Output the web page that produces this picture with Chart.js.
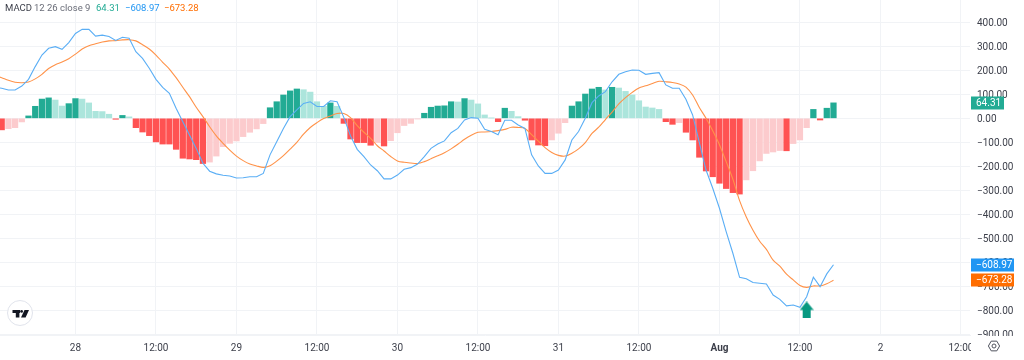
<!DOCTYPE html>
<html>
<head>
<meta charset="utf-8">
<title>MACD</title>
<script src="https://cdn.jsdelivr.net/npm/chart.js@4/dist/chart.umd.min.js"></script>
<style>
  html, body { margin: 0; padding: 0; background: #fff; }
  #grafico { display: block; }
</style>
</head>
<body>
<canvas id="grafico" width="1024" height="360"></canvas>
<script>
// hourly values. first entry sits just left of the canvas
const histogram = [
  -45, -48, -43, -39, -15, 10, 50, 80, 85, 76, 51, 61,
  82, 80, 64, 29, 28, 17, -4, 12, 6, -39, -57, -72,
  -98, -107, -107, -129, -166, -169, -172, -188, -182, -157, -118, -104,
  -94, -76, -58, -44, -22, 44, 69, 97, 114, 122, 119, 109,
  69, 50, 64, 50, -21, -86, -101, -101, -112, -101, -115, -93,
  -60, -30, -21, -3, 21, 46, 51, 52, 69, 68, 82, 76,
  60, 14, 1, -14, 42, 29, 7, -8, -90, -111, -114, -90,
  -62, -18, 51, 69, 101, 122, 129, 118, 129, 126, 112, 97,
  73, 47, 43, 37, -14, -25, -18, -58, -90, -162, -219, -243,
  -270, -292, -309, -315, -256, -218, -177, -146, -140, -134, -135, -105,
  -90, -39, 37, -7, 42, 64.31
];
const macd = [
  130, 125, 118, 118, 134, 162, 215, 263, 291, 298, 287, 315,
  353, 370, 370, 342, 346, 340, 324, 337, 333, 277, 249, 208,
  162, 129, 104, 42, -14, -69, -125, -187, -220, -231, -237, -240,
  -248, -247, -243, -243, -229, -152, -97, -42, 7, 35, 62, 69,
  49, 49, 73, 69, 4, -73, -129, -159, -194, -218, -252, -252,
  -236, -212, -205, -190, -159, -125, -107, -94, -60, -42, -7, 3,
  0, -46, -55, -68, -8, -8, -28, -42, -152, -198, -229, -229,
  -215, -173, -90, -55, 0, 65, 93, 111, 152, 183, 194, 201,
  200, 183, 187, 190, 139, 125, 125, 79, 14, -101, -215, -291,
  -374, -471, -561, -661, -667, -683, -686, -689, -735, -753, -780, -776,
  -786, -742, -661, -700, -647, -608.97
];
const signal = [
  179, 169, 158, 150, 148, 151, 164, 183, 207, 223, 234, 248,
  267, 288, 302, 310, 317, 322, 323, 326, 327, 322, 306, 288,
  263, 233, 205, 169, 129, 90, 46, 7, -35, -73, -104, -132,
  -157, -176, -190, -198, -204, -197, -178, -155, -128, -100, -66, -38,
  -18, -1, 10, 20, 20, 3, -30, -58, -83, -114, -136, -159,
  -177, -183, -186, -188, -180, -168, -156, -143, -127, -108, -87, -70,
  -58, -57, -55, -51, -46, -37, -38, -42, -68, -95, -122, -142,
  -154, -157, -145, -127, -101, -63, -37, -5, 26, 60, 86, 108,
  126, 135, 145, 154, 152, 149, 143, 130, 97, 45, 0, -52,
  -110, -180, -253, -342, -410, -465, -511, -545, -590, -615, -648, -672,
  -695, -703, -697, -697, -688, -673.28
];
const arrowHour = [109];
const arrowValue = [-797];

const xTickHours = [0, 12, 24, 36, 48, 60, 72, 84, 96, 108, 120, 132];
const xTickLabels = ['28', '12:00', '29', '12:00', '30', '12:00', '31', '12:00', 'Aug', '12:00', '2', '12:00'];
const yTickValues = [400, 300, 200, 100, 0, -100, -200, -300, -400, -500, -600, -700, -800, -900];
const yTickLabels = ['400.00', '300.00', '200.00', '100.00', '0.00', '\u2212100.00', '\u2212200.00', '\u2212300.00',
  '\u2212400.00', '\u2212500.00', '\u2212600.00', '\u2212700.00', '\u2212800.00', '\u2212900.00'];

const FONT = 'Roboto, sans-serif';
const DARK_GREEN = '#22ab94';
const LIGHT_GREEN = '#ace5dc';
const DARK_RED = '#ff5252';
const LIGHT_RED = '#fccbcd';
const BLUE = '#2196f3';
const ORANGE = '#ff6d00';

const hours = macd.map((v, i) => i - 12);
const toPoints = (values) => values.map((y, i) => ({ x: hours[i], y: y }));

// same rule tradingview uses: rising or falling against the previous bar
const barColors = histogram.map((v, i) => {
  const prev = i > 0 ? histogram[i - 1] : 0;
  if (v >= 0) return v >= prev ? DARK_GREEN : LIGHT_GREEN;
  return v <= prev ? DARK_RED : LIGHT_RED;
});

// green arrow marker
const arrow = document.createElement('canvas');
arrow.width = 14;
arrow.height = 17;
const a = arrow.getContext('2d');
a.fillStyle = '#089981';
a.beginPath();
a.moveTo(7, 0);
a.lineTo(14, 8.5);
a.lineTo(11, 8.5);
a.lineTo(11, 17);
a.lineTo(3, 17);
a.lineTo(3, 8.5);
a.lineTo(0, 8.5);
a.closePath();
a.fill();

function priceTag(ctx, scale, value, color, width) {
  const y = Math.round(scale.getPixelForValue(value));
  const text = (value < 0 ? '\u2212' : '') + Math.abs(value).toFixed(2);
  ctx.fillStyle = color;
  ctx.fillRect(971, y - 6.5, width, 13);
  ctx.fillStyle = '#fff';
  ctx.font = '10px ' + FONT;
  ctx.textAlign = 'left';
  ctx.textBaseline = 'middle';
  ctx.fillText(text, 976, y + 0.5);
}

function drawLogo(ctx) {
  ctx.beginPath();
  ctx.arc(20, 313, 12.5, 0, Math.PI * 2);
  ctx.fillStyle = '#fff';
  ctx.fill();
  ctx.strokeStyle = '#e0e3eb';
  ctx.lineWidth = 1;
  ctx.stroke();
  ctx.fillStyle = '#131722';
  ctx.fillRect(12.5, 310, 7.5, 3);
  ctx.fillRect(15.8, 310, 3.6, 7.5);
  ctx.beginPath();
  ctx.arc(21.6, 311.4, 1.4, 0, Math.PI * 2);
  ctx.fill();
  ctx.beginPath();
  ctx.moveTo(24.5, 310);
  ctx.lineTo(29, 310);
  ctx.lineTo(25.6, 317.5);
  ctx.lineTo(21, 317.5);
  ctx.closePath();
  ctx.fill();
}

function drawGear(ctx) {
  ctx.strokeStyle = '#50535e';
  ctx.lineWidth = 1;
  ctx.beginPath();
  for (let k = 0; k < 6; k++) {
    const ang = Math.PI / 3 * k;
    const px = 994 + 5.6 * Math.cos(ang);
    const py = 346 + 5.6 * Math.sin(ang);
    if (k === 0) ctx.moveTo(px, py); else ctx.lineTo(px, py);
  }
  ctx.closePath();
  ctx.stroke();
  ctx.beginPath();
  ctx.arc(994, 346, 2, 0, Math.PI * 2);
  ctx.stroke();
}

const extras = {
  id: 'extras',
  // the price axis is cut off where the time axis row starts
  beforeDatasetsDraw(chart) {
    chart.ctx.fillStyle = '#fff';
    chart.ctx.fillRect(971, 336, 53, 24);
  },
  afterDraw(chart) {
    const ctx = chart.ctx;
    const y = chart.scales.y;
    ctx.save();
    priceTag(ctx, y, histogram[histogram.length - 1], DARK_GREEN, 33);
    priceTag(ctx, y, macd[macd.length - 1], BLUE, 43);
    priceTag(ctx, y, signal[signal.length - 1], ORANGE, 43);

    ctx.font = '9.5px ' + FONT;
    ctx.textAlign = 'left';
    ctx.textBaseline = 'middle';
    const legend = [
      ['MACD', 5, '#3c3f4a'],
      ['12 26 close 9', 34, '#6a6d78'],
      ['64.31', 96, DARK_GREEN],
      ['\u2212608.97', 125, BLUE],
      ['\u2212673.28', 164, ORANGE]
    ];
    legend.forEach((l) => {
      ctx.fillStyle = l[2];
      ctx.fillText(l[0], l[1], 8.5);
    });

    drawLogo(ctx);
    drawGear(ctx);
    ctx.restore();
  }
};

const data = {
  datasets: [
    {
      type: 'line',
      data: arrowHour.map((h, i) => ({ x: h, y: arrowValue[i] })),
      showLine: false,
      pointStyle: arrow,
      pointRadius: 8,
      order: 0
    },
    {
      type: 'line',
      data: toPoints(macd),
      borderColor: '#5aaef5',
      borderWidth: 1.1,
      pointRadius: 0,
      tension: 0,
      order: 1
    },
    {
      type: 'line',
      data: toPoints(signal),
      borderColor: '#ff9248',
      borderWidth: 1.1,
      pointRadius: 0,
      tension: 0.3,
      order: 2
    },
    {
      type: 'bar',
      data: toPoints(histogram),
      backgroundColor: barColors,
      barThickness: 5.6,
      borderWidth: 0,
      order: 3
    }
  ]
};

const config = {
  type: 'bar',
  data: data,
  plugins: [extras],
  options: {
    responsive: false,
    animation: false,
    layout: { padding: 0, autoPadding: false },
    plugins: {
      legend: { display: false },
      tooltip: { enabled: false },
      title: { display: false }
    },
    scales: {
      x: {
        type: 'linear',
        offset: false,
        min: -11.25,
        max: 133.35,
        afterBuildTicks: (axis) => { axis.ticks = xTickHours.map((v) => ({ value: v })); },
        afterFit: (axis) => {
          axis.height = 25;
          axis.paddingLeft = 0;
          axis.paddingRight = 0;
          axis.paddingTop = 0;
          axis.paddingBottom = 0;
        },
        grid: { offset: false, color: '#f1f3f6', lineWidth: 1, drawTicks: false },
        border: { color: '#f1f3f6' },
        ticks: {
          autoSkip: false,
          maxRotation: 0,
          padding: 7,
          color: '#3c3f4a',
          font: (c) => ({
            size: 10,
            family: FONT,
            weight: c.tick && xTickLabels[c.tick.value / 12] === 'Aug' ? 'bold' : 'normal'
          }),
          callback: (v) => xTickLabels[xTickHours.indexOf(v)]
        }
      },
      y: {
        position: 'right',
        min: -901,
        max: 492,
        afterBuildTicks: (axis) => { axis.ticks = yTickValues.map((v) => ({ value: v })); },
        afterFit: (axis) => {
          axis.width = 54;
          axis.paddingLeft = 0;
          axis.paddingRight = 0;
          axis.paddingTop = 0;
          axis.paddingBottom = 0;
        },
        grid: { color: '#f1f3f6', lineWidth: 1, drawTicks: false },
        border: { display: false },
        ticks: {
          autoSkip: false,
          padding: 7,
          labelOffset: 1,
          color: '#3c3f4a',
          font: { size: 10, family: FONT },
          callback: (v) => yTickLabels[yTickValues.indexOf(v)]
        }
      }
    }
  }
};

const grafico_1 = new Chart(document.getElementById('grafico'), config);
</script>
</body>
</html>
